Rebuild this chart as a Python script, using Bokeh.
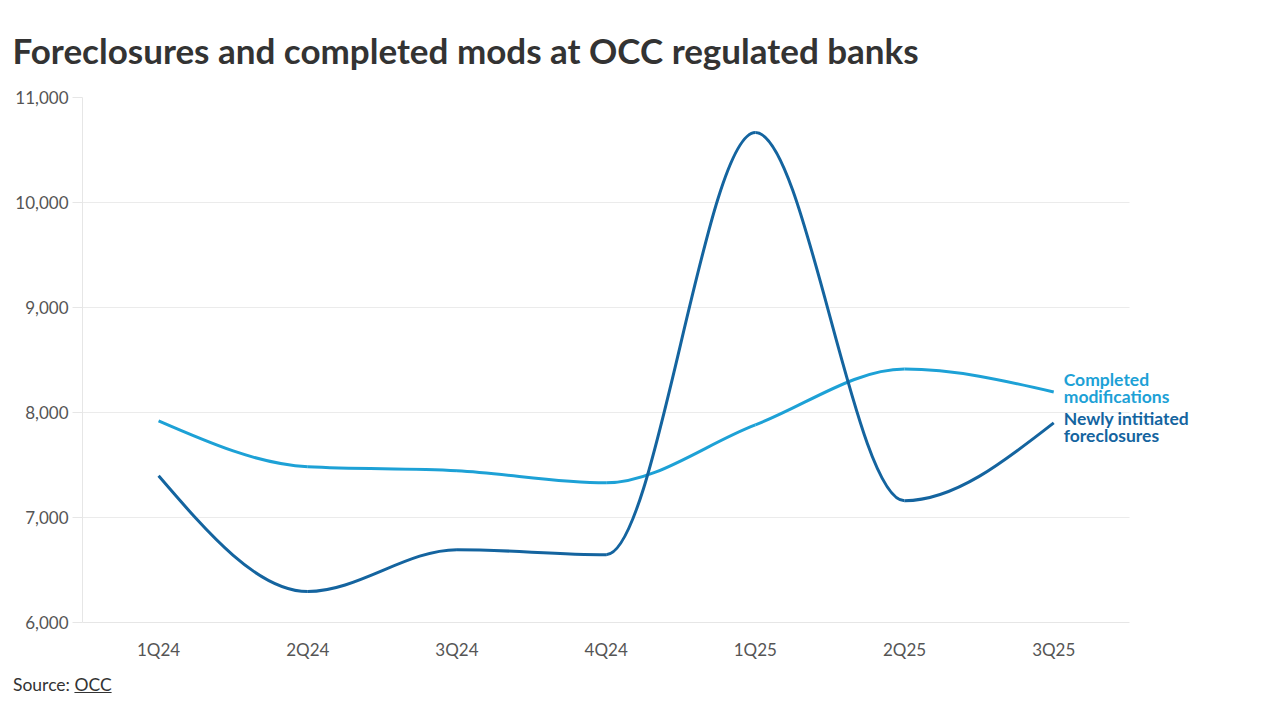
from bokeh.plotting import figure
from bokeh.models import (FixedTicker, NumeralTickFormatter, Range1d, Title, Div,
                          ColumnDataSource, Label)
from bokeh.layouts import column
from bokeh.embed import file_html
from bokeh.resources import INLINE
import numpy as np

quarters = ["1Q24", "2Q24", "3Q24", "4Q24", "1Q25", "2Q25", "3Q25"]
completed_mods = [7920, 7483, 7445, 7330, 7882, 8414, 8196]
new_foreclosures = [7397, 6295, 6694, 6646, 10667, 7160, 7901]
y_ticks = [6000, 7000, 8000, 9000, 10000, 11000]

series_names = ["Completed\nmodifications", "Newly intitiated\nforeclosures"]
series_colors = ["#1da1d6", "#14649f"]

FONT = "Lato"
X_BOUNDS = (-0.51, 6.51)


def monotone_bezier(xs, ys):
    """Control points of d3-style monotone-x cubic curve segments."""
    xs = np.asarray(xs, float)
    ys = np.asarray(ys, float)
    n = len(xs)
    h = np.diff(xs)
    s = np.diff(ys) / h
    m = np.zeros(n)
    for i in range(1, n - 1):
        p = (s[i - 1] * h[i] + s[i] * h[i - 1]) / (h[i - 1] + h[i])
        m[i] = (np.sign(s[i - 1]) + np.sign(s[i])) * min(abs(s[i - 1]), abs(s[i]), 0.5 * abs(p))
    m[0] = (3 * s[0] - m[1]) / 2
    m[-1] = (3 * s[-1] - m[-2]) / 2
    x0, x1 = xs[:-1], xs[1:]
    y0, y1 = ys[:-1], ys[1:]
    return dict(x0=x0, y0=y0, x1=x1, y1=y1,
                cx0=x0 + h / 3, cy0=y0 + m[:-1] * h / 3,
                cx1=x1 - h / 3, cy1=y1 - m[1:] * h / 3)


xpos = list(range(len(quarters)))

p = figure(width=1280, height=662, output_backend="svg", toolbar_location=None,
           x_range=Range1d(-0.51, 7.52), y_range=Range1d(6000, 11000),
           min_border_left=82, min_border_right=0, min_border_top=96,
           min_border_bottom=40)
p.outline_line_color = None
p.background_fill_color = "white"
p.border_fill_color = "white"

title = Title(text="Foreclosures and completed mods at OCC regulated banks",
              text_font=FONT, text_font_size="35px", text_font_style="bold",
              text_color="#333333", align="left", offset=-70, standoff=53)
p.add_layout(title, "above")

for vals, color in [(completed_mods, series_colors[0]), (new_foreclosures, series_colors[1])]:
    src = ColumnDataSource(monotone_bezier(xpos, vals))
    p.bezier(x0="x0", y0="y0", x1="x1", y1="y1", cx0="cx0", cy0="cy0",
             cx1="cx1", cy1="cy1", source=src, line_color=color, line_width=3)

for name, vals, color, dy in [(series_names[0], completed_mods, series_colors[0], 4),
                              (series_names[1], new_foreclosures, series_colors[1], -4)]:
    p.add_layout(Label(x=xpos[-1], y=vals[-1], text=name, x_offset=10, y_offset=dy,
                       text_font=FONT, text_font_size="17.5px", text_font_style="bold",
                       text_color=color, text_baseline="middle", text_align="left",
                       text_line_height=0.8))

# axes
p.xaxis.ticker = FixedTicker(ticks=xpos)
p.xaxis.major_label_overrides = {i: q for i, q in enumerate(quarters)}
p.xaxis.bounds = X_BOUNDS
p.xaxis.axis_line_color = "#e6e6e6"
p.xaxis.major_tick_line_color = None
p.xaxis.minor_tick_line_color = None
p.xaxis.major_label_standoff = 10
p.xaxis.major_label_text_font = FONT
p.xaxis.major_label_text_font_size = "17px"
p.xaxis.major_label_text_color = "#555555"

p.yaxis.ticker = FixedTicker(ticks=y_ticks)
p.yaxis.formatter = NumeralTickFormatter(format="0,0")
p.yaxis.axis_line_color = "#e6e6e6"
p.yaxis.major_tick_line_color = "#e6e6e6"
p.yaxis.major_tick_out = 10
p.yaxis.major_tick_in = 0
p.yaxis.minor_tick_line_color = None
p.yaxis.major_label_standoff = 4
p.yaxis.major_label_text_font = FONT
p.yaxis.major_label_text_font_size = "17px"
p.yaxis.major_label_text_color = "#555555"

p.xgrid.grid_line_color = None
p.ygrid.grid_line_color = "#ebebeb"
p.ygrid.ticker = FixedTicker(ticks=y_ticks)
p.ygrid.cross_bounds = X_BOUNDS

source_div = Div(text='Source: <u>OCC</u>', width=400, height=26,
                 margin=(10, 0, 0, 13),
                 styles={"font-family": FONT, "font-size": "17.5px", "color": "#333333"})

layout = column(p, source_div, spacing=0)
open("out.html", "w").write(file_html(layout, INLINE))
